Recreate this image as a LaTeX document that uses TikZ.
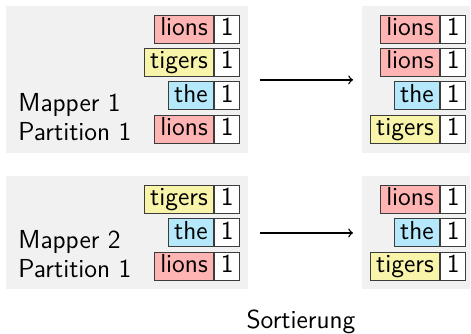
\documentclass[tikz,border=0pt]{standalone}
\definecolor{bggray}{RGB}{241,241,241}
\definecolor{lionred}{RGB}{255,180,180}
\definecolor{tigeryellow}{RGB}{248,245,170}
\definecolor{theblue}{RGB}{180,232,250}
\definecolor{cellline}{RGB}{60,60,60}
\begin{document}
\begin{tikzpicture}[x=0.5pt,y=-0.5pt,
  bg/.style={fill=bggray, draw=none, inner sep=0pt, anchor=north west},
  cell/.style={draw=cellline, line width=0.5pt, inner xsep=3pt, inner ysep=0pt,
    minimum height=14pt, text height=9.2pt, text depth=2.6pt,
    font=\fontsize{13}{15}\selectfont\sffamily, anchor=east},
  num/.style={cell, fill=white},
  lions/.style={cell, fill=lionred},
  tigers/.style={cell, fill=tigeryellow},
  the/.style={cell, fill=theblue},
  lab/.style={font=\fontsize{13}{15}\selectfont\sffamily, anchor=base west, inner sep=0pt},
  arr/.style={->, line width=0.7pt, shorten <=5.5pt, shorten >=4.5pt}]
\useasboundingbox (0,0) rectangle (471,333);
% background panels
\node[bg, minimum width=121pt, minimum height=73.5pt] (g1) at (6,6) {};
\node[bg, minimum width=54pt, minimum height=73.5pt] (g2) at (362,6) {};
\node[bg, minimum width=121pt, minimum height=56.5pt] (g3) at (6,176) {};
\node[bg, minimum width=54pt, minimum height=56.5pt] (g4) at (362,176) {};
% panel 1
\node[num] (a1n) at (240,29) {1};
\node[lions] (a1w) at (a1n.west) {lions};
\node[num] (a2n) at (240,62.3) {1};
\node[tigers] (a2w) at (a2n.west) {tigers};
\node[num] (a3n) at (240,95.7) {1};
\node[the] (a3w) at (a3n.west) {the};
\node[num] (a4n) at (240,129) {1};
\node[lions] (a4w) at (a4n.west) {lions};
\node[lab] (m1) at (18,111) {Mapper 1};
\node[lab] (p1) at (18,140) {Partition 1};
% panel 2
\node[num] (b1n) at (466,29) {1};
\node[lions] (b1w) at (b1n.west) {lions};
\node[num] (b2n) at (466,62.3) {1};
\node[lions] (b2w) at (b2n.west) {lions};
\node[num] (b3n) at (466,95.7) {1};
\node[the] (b3w) at (b3n.west) {the};
\node[num] (b4n) at (466,129) {1};
\node[tigers] (b4w) at (b4n.west) {tigers};
% panel 3
\node[num] (c1n) at (240,199) {1};
\node[tigers] (c1w) at (c1n.west) {tigers};
\node[num] (c2n) at (240,232.5) {1};
\node[the] (c2w) at (c2n.west) {the};
\node[num] (c3n) at (240,266) {1};
\node[lions] (c3w) at (c3n.west) {lions};
\node[lab] (m2) at (18,248) {Mapper 2};
\node[lab] (p2) at (18,277) {Partition 1};
% panel 4
\node[num] (d1n) at (466,199) {1};
\node[lions] (d1w) at (d1n.west) {lions};
\node[num] (d2n) at (466,232.5) {1};
\node[the] (d2w) at (d2n.west) {the};
\node[num] (d3n) at (466,266) {1};
\node[tigers] (d3w) at (d3n.west) {tigers};
% arrows
\draw[arr] (g1.east) -- (g2.west);
\draw[arr] (g3.east) -- (g4.west);
% caption
\node[lab, anchor=base] (sort) at (301,328) {Sortierung};
\end{tikzpicture}
\end{document}
